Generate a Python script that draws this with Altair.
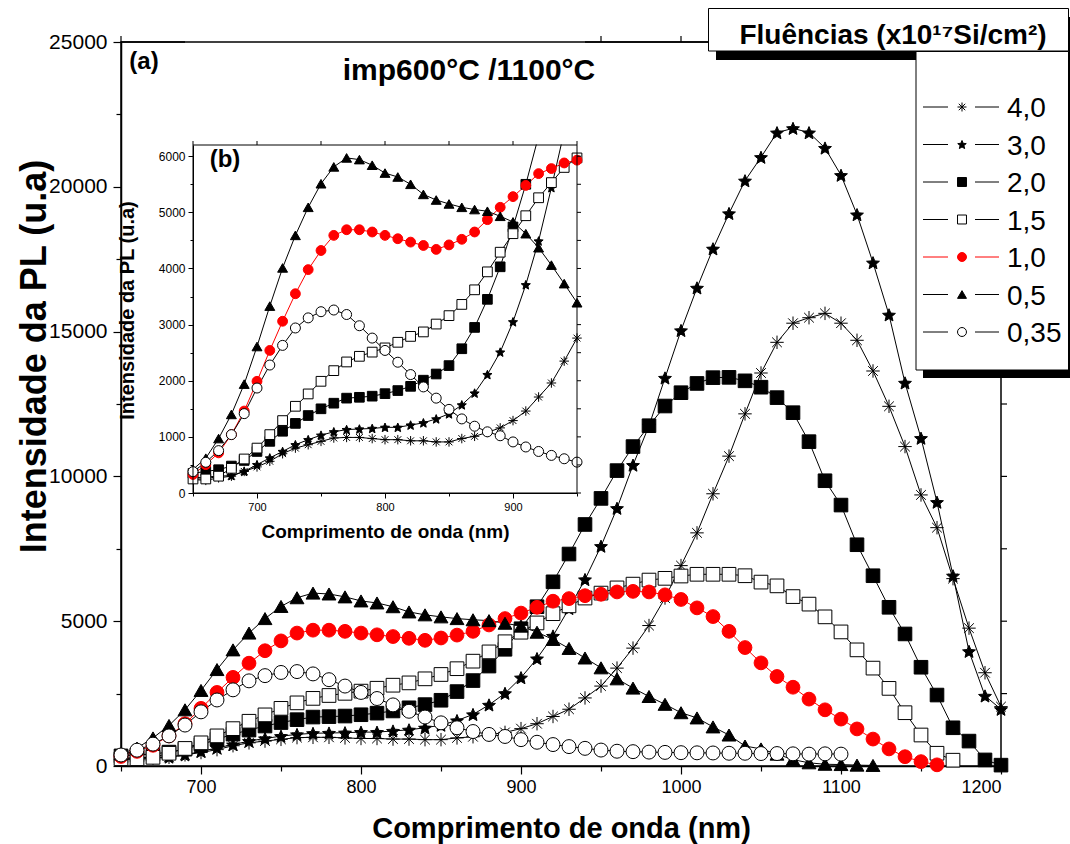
import math
import altair as alt
import pandas as pd

# ---------------- data ----------------
wavelength = list(range(650, 1201, 10))

pl_40 = [240, 225, 270, 300, 385, 465, 565, 700, 800, 860,
         920, 980, 990, 990, 970, 950, 950, 930, 930, 910,
         910, 970, 1010, 1080, 1160, 1290, 1460, 1710, 1960, 2350,
         2760, 3380, 4070, 4850, 5800, 6920, 8050, 9400, 10700, 12160,
         13570, 14630, 15290, 15480, 15630, 15290, 14700, 13640, 12420, 11030,
         9360, 8230, 6470, 4760, 3220, 2050]
pl_30 = [270, 285, 300, 310, 385, 505, 625, 740, 860, 950,
         1030, 1090, 1130, 1140, 1150, 1170, 1170, 1210, 1250, 1320,
         1410, 1570, 1780, 2110, 2510, 3050, 3710, 4490, 5440, 6440,
         7590, 8900, 10390, 11750, 13400, 15040, 16510, 17860, 19080, 20210,
         21020, 21870, 22020, 21870, 21340, 20400, 19040, 17380, 15580, 13230,
         11320, 9110, 6570, 3960, 2420, 1960]
pl_20 = [350, 385, 415, 480, 580, 740, 920, 1100, 1240, 1380,
         1500, 1600, 1690, 1705, 1725, 1770, 1825, 1900, 2010, 2120,
         2270, 2570, 2950, 3450, 4030, 4740, 5500, 6360, 7320, 8340,
         9240, 10200, 11030, 11750, 12430, 12890, 13210, 13410, 13420, 13300,
         13080, 12720, 12200, 11200, 9850, 9010, 7640, 6570, 5480, 4560,
         3410, 2450, 1320, 860, 210, 30]
pl_15 = [250, 250, 300, 440, 606, 800, 1040, 1290, 1545, 1765,
         1990, 2180, 2335, 2435, 2510, 2585, 2685, 2790, 2870, 3010,
         3160, 3360, 3620, 3940, 4290, 4620, 4940, 5260, 5530, 5800,
         5970, 6150, 6280, 6420, 6480, 6560, 6620, 6620, 6620, 6570,
         6350, 6220, 5850, 5590, 5150, 4630, 4010, 3380, 2680, 1840,
         1070, 440, 200]
pl_10 = [330, 505, 715, 1040, 1460, 1990, 2540, 3060, 3550, 3980,
         4320, 4590, 4690, 4690, 4650, 4590, 4530, 4470, 4410, 4340,
         4420, 4520, 4650, 4870, 5090, 5280, 5480, 5690, 5780, 5880,
         5930, 6010, 6030, 6010, 5910, 5750, 5460, 5160, 4650, 4090,
         3560, 3090, 2720, 2310, 1940, 1620, 1280, 930, 590, 320,
         150, 40]
pl_05 = [420, 620, 970, 1400, 1940, 2610, 3330, 4010, 4590, 5090,
         5510, 5810, 5970, 5940, 5840, 5700, 5630, 5500, 5320, 5220,
         5150, 5090, 5050, 5020, 4930, 4830, 4620, 4370, 4060, 3730,
         3390, 3010, 2690, 2400, 2130, 1840, 1660, 1350, 1070, 690,
         590, 410, 220, 110, 60, 50, 30, 20]
pl_035 = [380, 547, 755, 1040, 1414, 1870, 2280, 2630, 2940, 3120,
          3230, 3260, 3180, 2980, 2760, 2540, 2330, 2110, 1890, 1690,
          1490, 1320, 1190, 1090, 1020, 910, 820, 740, 670, 610,
          550, 510, 495, 480, 470, 460, 455, 450, 440, 440,
          430, 430, 420, 410, 420, 410]

series_names = ["4,0", "3,0", "2,0", "1,5", "1,0", "0,5", "0,35"]
series_values = [pl_40, pl_30, pl_20, pl_15, pl_10, pl_05, pl_035]

main_x_ticks = list(range(650, 1201, 50))
main_y_ticks = list(range(0, 25001, 2500))
inset_x_ticks = list(range(650, 951, 50))
inset_y_ticks = list(range(0, 6001, 500))

rows = [{"serie": n, "nm": w, "pl": v}
        for n, vals in zip(series_names, series_values)
        for w, v in zip(wavelength, vals)]
df = pd.DataFrame(rows)
df_in = df[df["nm"] <= 950]

# ---------------- layout constants (pixels inside plot area) ----------------
W, H = 880, 724
IX0, IX1, IYT, IYB = 72, 456, 103, 451
FONT = "Liberation Sans, Arial, Helvetica, sans-serif"


def star_path(n=5, r_in=0.45):
    pts = []
    for k in range(2 * n):
        a = -math.pi / 2 + k * math.pi / n
        r = 1.0 if k % 2 == 0 else r_in
        pts.append((r * math.cos(a), r * math.sin(a) + 0.1))
    return "M" + "L".join(f"{x:.3f},{y:.3f}" for x, y in pts) + "Z"


ASTER = "M0,-1L0,1M-1,0L1,0M-0.72,-0.72L0.72,0.72M-0.72,0.72L0.72,-0.72"
STAR = star_path()

shape_sc = alt.Scale(domain=series_names,
                     range=[ASTER, STAR, "square", "square", "circle", "triangle-up", "circle"])
fill_sc = alt.Scale(domain=series_names,
                    range=["transparent", "black", "black", "white", "#ff0000", "black", "white"])
stroke_sc = alt.Scale(domain=series_names,
                      range=["black", "black", "black", "black", "#ff0000", "black", "black"])
main_size_sc = alt.Scale(domain=series_names, range=[180, 195, 100, 100, 130, 135, 120])
inset_size_sc = alt.Scale(domain=series_names, range=[90, 100, 55, 55, 75, 85, 70])

# ---------------- main chart ----------------
main_x_axis = alt.Axis(
    title="Comprimento de onda (nm)", values=main_x_ticks, format="d",
    labelExpr="datum.value % 100 === 0 ? datum.label : ''",
    tickSize={"condition": {"test": "datum.value % 100 === 0", "value": 8}, "value": 5},
    labelFontSize=18, labelPadding=4, labelFont=FONT,
    titleFontSize=29, titleFontWeight="bold", titleFont=FONT,
    titleX=W / 2, titleY=62, titleBaseline="middle")
main_y_axis = alt.Axis(
    title="Intensidade da PL (u.a)", values=main_y_ticks, format="d",
    labelExpr="datum.value % 5000 === 0 ? datum.label : ''",
    tickSize={"condition": {"test": "datum.value % 5000 === 0", "value": 8}, "value": 5},
    labelFontSize=21, labelPadding=6, labelFont=FONT,
    titleFontSize=36, titleFontWeight="bold", titleFont=FONT,
    titleX=-87, titleY=314, titleBaseline="middle", titleAngle=-90)

xm = alt.X("nm:Q", scale=alt.Scale(domain=[650, 1200], nice=False, zero=False), axis=main_x_axis)
ym = alt.Y("pl:Q", scale=alt.Scale(domain=[0, 25000], nice=False), axis=main_y_axis)

main_lines = alt.Chart(df).mark_line(strokeWidth=1).encode(
    x=xm, y=ym, detail="serie:N",
    color=alt.Color("serie:N", scale=stroke_sc, legend=None))
main_points = alt.Chart(df).mark_point(filled=True, opacity=1, strokeWidth=1).encode(
    x=xm, y=ym,
    shape=alt.Shape("serie:N", scale=shape_sc, legend=None),
    fill=alt.Fill("serie:N", scale=fill_sc, legend=None),
    stroke=alt.Stroke("serie:N", scale=stroke_sc, legend=None),
    size=alt.Size("serie:N", scale=main_size_sc, legend=None))
top_ticks = alt.Chart(pd.DataFrame({"nm": main_x_ticks})).mark_rule(
    color="black", strokeWidth=1.2).encode(x=xm, y=alt.value(0), y2=alt.value(-6))
right_ticks = alt.Chart(pd.DataFrame({"pl": main_y_ticks})).mark_rule(
    color="black", strokeWidth=1.2).encode(y=ym, x=alt.value(W), x2=alt.value(W + 6))

main = alt.layer(main_lines, main_points, top_ticks, right_ticks)

# ---------------- inset chart ----------------
inset_x_axis = alt.Axis(
    title="Comprimento de onda (nm)", values=inset_x_ticks, format="d", orient="bottom",
    offset=IYB - H,
    labelExpr="datum.value % 100 === 0 ? datum.label : ''",
    tickSize={"condition": {"test": "datum.value % 100 === 0", "value": 5}, "value": 3},
    labelFontSize=11, labelPadding=3, labelFont=FONT, domainWidth=1, tickWidth=1,
    titleFontSize=19, titleFontWeight="bold", titleFont=FONT,
    titleX=(IX0 + IX1) / 2, titleY=38, titleBaseline="middle")
inset_y_axis = alt.Axis(
    title="Intensidade da PL (u.a)", values=inset_y_ticks, format="d", orient="left",
    offset=-IX0,
    labelExpr="datum.value % 1000 === 0 ? datum.label : ''",
    tickSize={"condition": {"test": "datum.value % 1000 === 0", "value": 5}, "value": 3},
    labelFontSize=12, labelPadding=3, labelFont=FONT, domainWidth=1, tickWidth=1,
    titleFontSize=20, titleFontWeight="bold", titleFont=FONT,
    titleX=-66, titleY=268, titleBaseline="middle", titleAngle=-90)

xi = alt.X("nm:Q", scale=alt.Scale(domain=[650, 950], range=[IX0, IX1], nice=False, zero=False),
           axis=inset_x_axis)
yi = alt.Y("pl:Q", scale=alt.Scale(domain=[0, 6200], range=[IYB, IYT], nice=False),
           axis=inset_y_axis)

inset_lines = alt.Chart(df_in).mark_line(strokeWidth=1).encode(
    x=xi, y=yi, detail="serie:N",
    color=alt.Color("serie:N", scale=stroke_sc, legend=None))
inset_points = alt.Chart(df_in).mark_point(filled=True, opacity=1, strokeWidth=1).encode(
    x=xi, y=yi,
    shape=alt.Shape("serie:N", scale=shape_sc, legend=None),
    fill=alt.Fill("serie:N", scale=fill_sc, legend=None),
    stroke=alt.Stroke("serie:N", scale=stroke_sc, legend=None),
    size=alt.Size("serie:N", scale=inset_size_sc, legend=None))
one = pd.DataFrame({"k": [0]})
cover = alt.Chart(one).mark_rect(color="white").encode(
    x=alt.value(IX0 - 8), x2=alt.value(IX1 + 8), y=alt.value(-42), y2=alt.value(IYT - 0.5))
inset_frame = alt.Chart(one).mark_rect(fill=None, stroke="black", strokeWidth=1).encode(
    x=alt.value(IX0), x2=alt.value(IX1), y=alt.value(IYT), y2=alt.value(IYB))
inset_top = alt.Chart(pd.DataFrame({"nm": inset_x_ticks})).mark_rule(
    color="black", strokeWidth=1).encode(x=xi, y=alt.value(IYT), y2=alt.value(IYT - 4))
inset_right = alt.Chart(pd.DataFrame({"pl": inset_y_ticks})).mark_rule(
    color="black", strokeWidth=1).encode(y=yi, x=alt.value(IX1), x2=alt.value(IX1 + 4))

inset = alt.layer(inset_lines, inset_points, cover, inset_frame, inset_top, inset_right)

# ---------------- annotations and legend ----------------
top_frame = alt.Chart(one).mark_rule(color="black", strokeWidth=1.5).encode(
    x=alt.value(0), x2=alt.value(W), y=alt.value(0))
label_a = alt.Chart(one).mark_text(text="(a)", font=FONT, fontSize=24, fontWeight="bold",
                                   baseline="middle").encode(x=alt.value(23), y=alt.value(20))
label_b = alt.Chart(one).mark_text(text="(b)", font=FONT, fontSize=24, fontWeight="bold",
                                   baseline="middle").encode(x=alt.value(104), y=alt.value(118))
title_txt = alt.Chart(one).mark_text(text="imp600°C /1100°C", font=FONT, fontSize=30,
                                     fontWeight="bold", baseline="alphabetic").encode(
    x=alt.value(348), y=alt.value(38))

lt_shadow = alt.Chart(one).mark_rect(color="black").encode(
    x=alt.value(595), x2=alt.value(960), y=alt.value(-25), y2=alt.value(18))
lt_box = alt.Chart(one).mark_rect(fill="white", stroke="black", strokeWidth=1).encode(
    x=alt.value(587.5), x2=alt.value(947.5), y=alt.value(-33.5), y2=alt.value(9))
le_shadow = alt.Chart(one).mark_rect(color="black").encode(
    x=alt.value(802), x2=alt.value(965), y=alt.value(18), y2=alt.value(336))
le_box = alt.Chart(one).mark_rect(fill="white", stroke="black", strokeWidth=1).encode(
    x=alt.value(795), x2=alt.value(947.5), y=alt.value(9.5), y2=alt.value(328))
lt_text = alt.Chart(one).mark_text(text="Fluências (x10¹⁷Si/cm²)", font=FONT, fontSize=28,
                                   fontWeight="bold", baseline="alphabetic").encode(
    x=alt.value(772), y=alt.value(2))

leg_df = pd.DataFrame({"serie": series_names, "idx": list(range(len(series_names)))})
leg_base = alt.Chart(leg_df).transform_calculate(
    ly="65 + datum.idx * 37.5", lyt="75 + datum.idx * 37.5")
leg_l1 = leg_base.mark_rule(strokeWidth=1).encode(
    x=alt.value(802), x2=alt.value(827), y=alt.Y("ly:Q", scale=None),
    color=alt.Color("serie:N", scale=stroke_sc, legend=None))
leg_l2 = leg_base.mark_rule(strokeWidth=1).encode(
    x=alt.value(854), x2=alt.value(878), y=alt.Y("ly:Q", scale=None),
    color=alt.Color("serie:N", scale=stroke_sc, legend=None))
leg_pt = leg_base.mark_point(filled=True, opacity=1, strokeWidth=1, size=80).encode(
    x=alt.value(841), y=alt.Y("ly:Q", scale=None),
    shape=alt.Shape("serie:N", scale=shape_sc, legend=None),
    fill=alt.Fill("serie:N", scale=fill_sc, legend=None),
    stroke=alt.Stroke("serie:N", scale=stroke_sc, legend=None))
leg_tx = leg_base.mark_text(align="left", baseline="alphabetic", font=FONT, fontSize=28).encode(
    x=alt.value(886), y=alt.Y("lyt:Q", scale=None), text="serie:N")

overlay = alt.layer(top_frame, label_a, label_b, title_txt,
                    lt_shadow, lt_box, le_shadow, le_box, lt_text,
                    leg_l1, leg_l2, leg_pt, leg_tx)

chart = alt.layer(main, inset, overlay).resolve_scale(
    x="independent", y="independent", size="independent"
).properties(
    width=W, height=H, autosize="none",
    padding={"left": 121, "top": 42, "right": 69, "bottom": 78}
).configure_view(
    stroke="black", strokeWidth=1.5
).configure_axis(
    grid=False, domainColor="black", domainWidth=1.5, tickColor="black", tickWidth=1.2,
    labelColor="black", titleColor="black"
)

chart.save("out.html", embed_options={"renderer": "svg", "actions": False})
